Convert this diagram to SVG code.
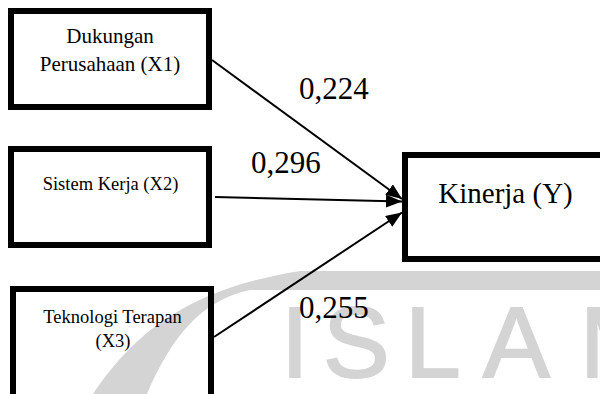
<svg xmlns="http://www.w3.org/2000/svg" width="600" height="394" viewBox="0 0 600 394">
<defs>
<style>
.box{fill:none;stroke:#000;stroke-width:6}
.lbl{font-family:"Liberation Serif","Times New Roman",serif;fill:#000;text-anchor:middle}
.num{font-family:"Liberation Serif","Times New Roman",serif;fill:#000;font-size:31px}
.edge{stroke:#000;stroke-width:2;fill:none;marker-end:url(#ah)}
.wm{fill:#d4d4d4}
.wmt{font-family:"Liberation Sans",Arial,sans-serif;font-size:100px;fill:#d4d4d4;stroke:#d4d4d4;stroke-width:2}
</style>
<marker id="ah" markerUnits="userSpaceOnUse" markerWidth="16" markerHeight="13" refX="16" refY="6.5" orient="auto">
<path d="M0,0 L16,6.5 L0,13 Z" fill="#000"/>
</marker>
</defs>
<rect width="600" height="394" fill="#fff"/>
<g id="watermark">
<path class="wm" d="M93 394 C130 340 180 290 300 271 L600 271 L600 290 L250 290 C200 300 170 340 147 394 Z"/>
<text class="wmt" x="281" y="377">I</text>
<text class="wmt" x="323" y="377">S</text>
<text class="wmt" x="405" y="377">L</text>
<text class="wmt" x="483" y="377">A</text>
<text class="wmt" x="580" y="377">M</text>
</g>
<g id="connectors">
<line class="edge" x1="212" y1="60" x2="402" y2="199"/>
<line class="edge" x1="215" y1="197" x2="402" y2="201.5"/>
<line class="edge" x1="214" y1="337" x2="402" y2="212.5"/>
<text class="num" x="299" y="99">0,224</text>
<text class="num" x="251" y="173">0,296</text>
<text class="num" x="299" y="318">0,255</text>
</g>
<g id="x1">
<rect class="box" x="11" y="11" width="198" height="96"/>
<text class="lbl" x="110" y="43" font-size="21">Dukungan</text>
<text class="lbl" x="110" y="71" font-size="21">Perusahaan (X1)</text>
</g>
<g id="x2">
<rect class="box" x="11" y="149" width="198" height="96"/>
<text class="lbl" x="110.5" y="190" font-size="18.5">Sistem Kerja (X2)</text>
</g>
<g id="x3">
<rect class="box" x="13" y="289" width="198" height="150"/>
<text class="lbl" x="112.5" y="322.5" font-size="18.5">Teknologi Terapan</text>
<text class="lbl" x="113" y="346.5" font-size="18.5">(X3)</text>
</g>
<g id="y">
<rect class="box" x="405" y="155" width="210" height="104"/>
<text class="lbl" x="505.5" y="203" font-size="29">Kinerja (Y)</text>
</g>
</svg>
